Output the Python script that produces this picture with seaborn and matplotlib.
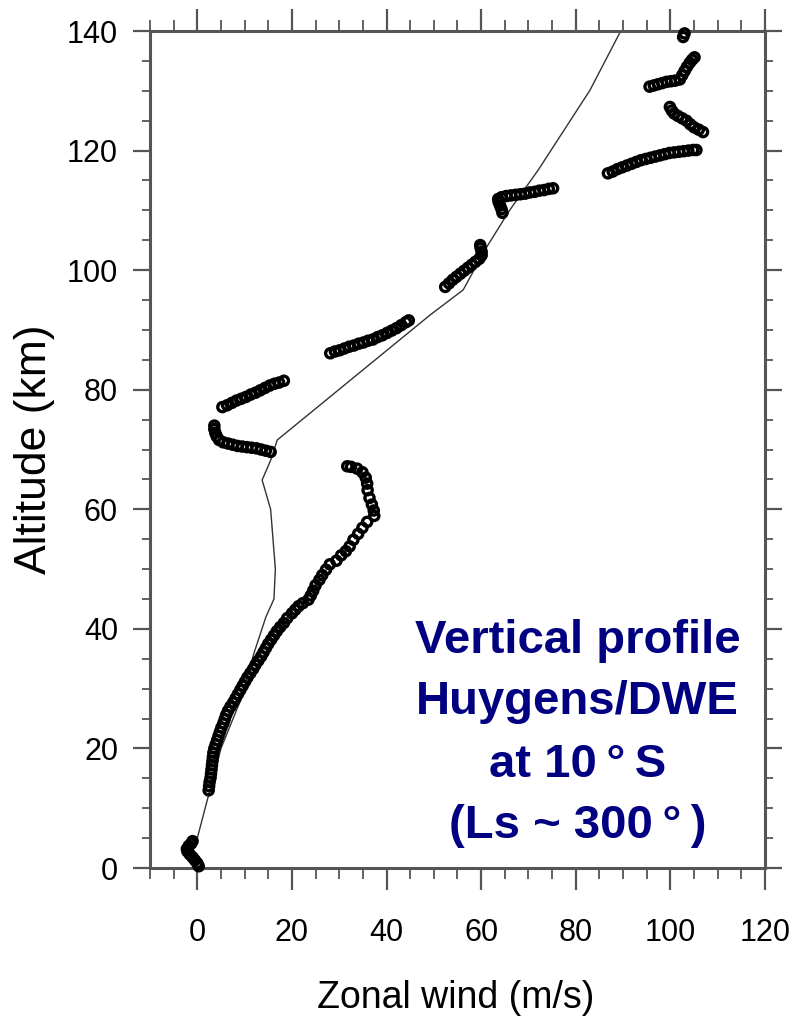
import numpy as np
import pandas as pd
import matplotlib
matplotlib.use("Agg")
import matplotlib.pyplot as plt
from matplotlib.ticker import MultipleLocator
import seaborn as sns

# ---------------- data ----------------
# Huygens/DWE observed zonal wind (m/s) vs altitude (km)
obs_wind = [
    0.3, 0.0, -0.5, -1.0, -1.6, -2.1, -2.2, -1.8, -1.3, -1.0,
    2.4, 2.5, 2.6, 2.8, 2.9, 3.0, 3.1, 3.2, 3.3, 3.4, 3.6, 3.9, 4.2, 4.5, 4.8,
    5.1, 5.5, 5.8, 6.1, 6.5, 7.0, 7.6, 8.1, 8.6, 9.1, 9.6, 10.1, 10.6, 11.2,
    11.8, 12.3, 12.9, 13.5, 14.0, 14.5, 15.0, 15.6, 16.2, 16.8, 17.5, 18.3,
    19.0, 20.0, 20.7, 21.4, 22.3,
    23.5, 24.0, 24.5, 25.0,
    25.8, 26.4, 27.2, 28.0,
    29.4, 30.4, 31.4, 32.2,
    33.0, 34.0, 34.9, 35.9,
    37.4, 37.3, 36.9, 36.4,
    36.0, 35.9, 35.6, 34.9, 33.8, 32.5, 31.7,
    3.6, 3.6, 3.8, 4.1, 4.6, 5.5, 6.5, 7.5, 8.5, 9.5, 10.5, 11.5, 12.5, 13.5,
    14.5, 15.5,
    5.3, 6.3, 7.3, 8.3, 9.3, 10.3, 11.3, 12.3, 13.3, 14.3, 15.3, 16.3, 17.3,
    18.3,
    28.1, 29.1, 30.1, 31.1, 32.1, 33.1, 34.1, 35.1, 36.1, 37.1, 38.1, 39.1,
    40.1, 41.1, 42.1, 43.1, 44.1, 44.7,
    52.4, 53.2, 54.0, 54.8, 55.6, 56.4, 57.2, 58.0, 58.8, 59.6, 60.1, 60.1,
    59.9, 59.8,
    64.5, 64.3, 64.0, 63.7, 63.6, 64.3, 65.3, 66.3, 67.3, 68.3, 69.3, 70.3,
    71.3, 72.3, 73.3, 74.3, 75.2,
    86.8, 87.8, 88.8, 89.8, 90.8, 91.8, 92.8, 93.8, 94.8, 95.8, 96.8, 97.8,
    98.8, 99.8, 100.8, 101.8, 102.8, 103.8, 104.8, 105.5,
    99.9, 100.3, 100.8, 101.6, 102.5, 103.4, 104.2, 105.0, 106.0, 106.9,
    95.6, 96.5, 97.4, 98.3, 99.2, 100.1, 101.0, 102.0, 102.5, 103.0, 103.5,
    104.1, 104.6, 105.1,
    102.7, 103.0,
]
obs_alt = [
    0.3, 0.8, 1.3, 1.8, 2.3, 2.8, 3.2, 3.7, 4.1, 4.5,
    13.0, 13.7, 14.4, 15.1, 15.8, 16.5, 17.2, 17.9, 18.6, 19.3, 20.0, 20.7,
    21.4, 22.1, 22.8, 23.5, 24.2, 24.9, 25.6, 26.3, 27.0, 27.7, 28.4, 29.1,
    29.8, 30.5, 31.2, 31.9, 32.6, 33.3, 34.0, 34.7, 35.4, 36.1, 36.8, 37.5,
    38.2, 38.9, 39.6, 40.3, 41.0, 41.8, 42.6, 43.2, 43.8, 44.3,
    44.9, 45.6, 46.4, 47.3,
    48.2, 49.0, 49.9, 50.8,
    51.4, 52.3, 53.0, 53.8,
    54.9, 55.9, 56.9, 57.9,
    58.9, 59.8, 60.8, 61.9,
    63.2, 64.3, 65.3, 66.2, 66.8, 67.1, 67.2,
    74.0, 73.4, 72.8, 72.2, 71.6, 71.2, 71.0, 70.8, 70.6, 70.5, 70.4, 70.3,
    70.2, 70.0, 69.8, 69.6,
    77.1, 77.4, 77.8, 78.2, 78.5, 78.8, 79.2, 79.5, 79.9, 80.3, 80.7, 81.0,
    81.2, 81.5,
    86.1, 86.4, 86.6, 86.9, 87.2, 87.4, 87.7, 87.9, 88.2, 88.4, 88.8, 89.1,
    89.5, 89.9, 90.3, 90.8, 91.3, 91.6,
    97.2, 97.8, 98.4, 98.9, 99.4, 99.9, 100.4, 100.9, 101.4, 101.9, 102.5,
    103.1, 103.7, 104.2,
    109.6, 110.2, 110.8, 111.4, 111.9, 112.2, 112.4, 112.5, 112.6, 112.7,
    112.8, 113.0, 113.1, 113.3, 113.4, 113.6, 113.7,
    116.2, 116.5, 116.9, 117.2, 117.5, 117.8, 118.1, 118.4, 118.6, 118.8,
    119.0, 119.2, 119.4, 119.6, 119.7, 119.8, 119.9, 120.0, 120.1, 120.1,
    127.3, 126.7, 126.2, 125.8, 125.4, 125.0, 124.4, 123.9, 123.5, 123.1,
    130.7, 130.9, 131.1, 131.3, 131.5, 131.6, 131.7, 131.9, 132.6, 133.3,
    134.0, 134.7, 135.2, 135.6,
    139.0, 139.6,
]

# Model zonal wind profile
model_wind = [0.0, 1.75, 5.0, 9.1, 12.0, 14.5, 16.2, 16.5, 16.0, 15.5, 13.7,
              15.5, 16.9, 49.2, 56.2, 61.2, 66.0, 72.1, 83.0, 89.5]
model_alt = [5.0, 10.3, 20.0, 28.0, 36.0, 42.0, 45.0, 50.0, 55.0, 60.0, 64.9,
             68.2, 71.6, 92.5, 96.7, 103.9, 110.0, 116.8, 130.1, 140.0]

x_major = [0, 20, 40, 60, 80, 100, 120]
y_major = [0, 20, 40, 60, 80, 100, 120, 140]

annot_lines = ["Vertical profile", "Huygens/DWE", "at 10\u2009°\u2009S",
               "(Ls ~ 300\u2009°\u2009)"]

# ---------------- plot ----------------
sns.set_style("white")
plt.rcParams["font.family"] = ["Liberation Sans", "DejaVu Sans"]

obs = pd.DataFrame({"wind": obs_wind, "alt": obs_alt})
mod = pd.DataFrame({"wind": model_wind, "alt": model_alt})

fig = plt.figure(figsize=(7.92, 10.24), dpi=100)
ax = fig.add_axes([0.1894, 0.1523, 0.7765, 0.8174])

sns.lineplot(data=mod, x="wind", y="alt", sort=False, estimator=None,
             color="#333333", linewidth=1.0, ax=ax, zorder=2)
sns.scatterplot(data=obs, x="wind", y="alt", marker="o", s=44,
                facecolors="none", edgecolor="black", linewidth=2.4,
                ax=ax, zorder=3, clip_on=False)

ax.set_xlim(-10, 120)
ax.set_ylim(0, 140)
ax.set_xticks(x_major)
ax.set_yticks(y_major)
ax.xaxis.set_minor_locator(MultipleLocator(5))
ax.yaxis.set_minor_locator(MultipleLocator(5))

spine_col = "#555555"
for s in ax.spines.values():
    s.set_visible(True)
    s.set_color(spine_col)
    s.set_linewidth(2.2)

ax.tick_params(axis="both", which="both", direction="out", color=spine_col,
               labelcolor="black",
               top=True, right=True, bottom=True, left=True)
ax.tick_params(axis="x", which="major", length=16, width=1.6, pad=20,
               labelsize=22, labeltop=False)
ax.tick_params(axis="x", which="minor", length=8, width=1.3)
ax.tick_params(axis="y", which="major", length=12, width=1.6, pad=11,
               labelsize=22, labelright=False)
ax.tick_params(axis="y", which="minor", length=6, width=1.3)

ax.set_xlabel("Zonal wind (m/s)", fontsize=27, color="black")
ax.set_ylabel("Altitude (km)", fontsize=32, color="black")
ax.xaxis.set_label_coords(0.497, -0.134)
ax.yaxis.set_label_coords(-0.155, 0.5)

for txt, yv in zip(annot_lines, [38.0, 27.7, 17.3, 7.0]):
    ax.text(80.4, yv, txt, ha="center", va="center", fontsize=34,
            fontweight="bold", color="#000080")

fig.savefig("out.png", dpi=100)
